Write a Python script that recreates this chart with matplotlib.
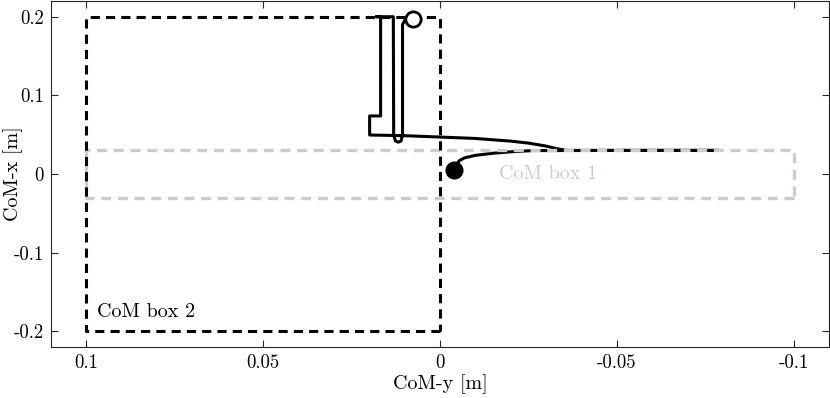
import numpy as np
import matplotlib
matplotlib.use("Agg")
import matplotlib.pyplot as plt

plt.rcParams["font.family"] = ["cmr10", "DejaVu Serif"]
plt.rcParams["mathtext.fontset"] = "cm"
plt.rcParams["axes.unicode_minus"] = False

# CoM trajectory (CoM-y, CoM-x) in metres
traj_y = [0.0075, 0.0095, 0.0106, 0.0106, 0.0110, 0.0118, 0.0126, 0.0131,
          0.0132, 0.0180, 0.0168, 0.0168, 0.0199, 0.0199,
          0.010, 0.0, -0.010, -0.020, -0.025, -0.030, -0.033, -0.0358,
          -0.060, -0.079,
          -0.060, -0.0262, -0.020, -0.015, -0.010, -0.007, -0.0055,
          -0.0045, -0.0041]
traj_x = [0.197, 0.199, 0.190, 0.050, 0.042, 0.0405, 0.042, 0.050,
          0.200, 0.200, 0.200, 0.0738, 0.0738, 0.0496,
          0.0487, 0.0470, 0.0452, 0.0418, 0.0393, 0.0355, 0.0322, 0.0300,
          0.030, 0.030,
          0.030, 0.0298, 0.0282, 0.0264, 0.0237, 0.0206, 0.0172,
          0.0110, 0.005]

# CoM boxes: (y_min, y_max, x_min, x_max)
box1 = (-0.1, 0.1, -0.03, 0.03)
box2 = (0.0, 0.1, -0.2, 0.2)

xticks = [0.1, 0.05, 0, -0.05, -0.1]
xtick_labels = ["0.1", "0.05", "0", "-0.05", "-0.1"]
yticks = [-0.2, -0.1, 0, 0.1, 0.2]
ytick_labels = ["-0.2", "-0.1", "0", "0.1", "0.2"]

fig = plt.figure(figsize=(8.3, 3.98), dpi=100)
ax = fig.add_axes([51 / 830, 1 - 347 / 398, 778 / 830, 346 / 398])

grey = "#d0ccc3"

def box_xy(b):
    y0, y1, x0, x1 = b
    return [y0, y1, y1, y0, y0], [x0, x0, x1, x1, x0]

ax.plot(traj_y, traj_x, color="black", lw=2.2, solid_joinstyle="round", zorder=2)

# yellow sliver on the left edge of box 1
ax.plot([box1[1], box1[1]], [box1[2], box1[3]], color="#f2c94c", lw=1.2, zorder=2.5)

by, bx = box_xy(box1)
ax.plot(by, bx, color=grey, lw=2.4, dashes=(3, 2), zorder=3)
by, bx = box_xy(box2)
ax.plot(by, bx, color="black", lw=2.2, dashes=(3, 2), zorder=4)

ax.plot(traj_y[0], traj_x[0], "o", ms=11, mfc="white", mec="black", mew=2.0, zorder=5)
ax.plot(traj_y[-1], traj_x[-1], "o", ms=12, mfc="black", mec="black", zorder=5)

ax.text(-0.0168, 0.0, "CoM box 1", color=grey, fontsize=14.5, va="center", ha="left")
ax.text(0.0971, -0.1756, "CoM box 2", color="black", fontsize=14.5, va="center", ha="left")

ax.set_xlim(0.11, -0.11)
ax.set_ylim(-0.22, 0.22)
ax.set_xticks(xticks)
ax.set_xticklabels(xtick_labels)
ax.set_yticks(yticks)
ax.set_yticklabels(ytick_labels)
ax.tick_params(direction="in", length=5, width=0.8, colors="#262626",
               labelsize=13.5, top=True, right=True, labelcolor="black")
ax.tick_params(axis="x", pad=5)
ax.tick_params(axis="y", pad=5)
for s in ax.spines.values():
    s.set_color("#262626")
    s.set_linewidth(0.8)

ax.set_xlabel("CoM-y [m]", fontsize=14.5)
ax.set_ylabel("CoM-x [m]", fontsize=14.5)
ax.xaxis.set_label_coords(0.5, -0.078)
ax.yaxis.set_label_coords(-0.036, 0.5)

fig.savefig("out.png", dpi=100)
